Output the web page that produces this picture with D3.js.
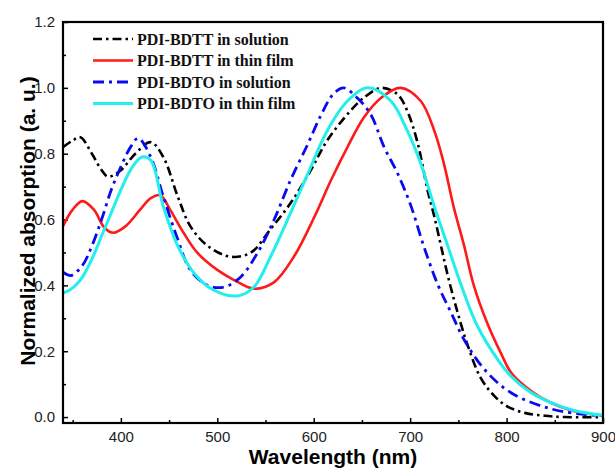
<!DOCTYPE html>
<html lang="en">
<head>
  <meta charset="UTF-8"/>
  <title>Normalized absorption</title>
  <style>
    *{margin:0;padding:0}
    body{background:#fff;width:615px;height:470px;overflow:hidden}
    .tick text{font-family:"Liberation Sans",Arial,sans-serif;font-size:15px;fill:#222}
    .legend text{font-family:"Liberation Serif","Times New Roman",serif;font-weight:bold;font-size:16px;fill:#111}
    .title{font-family:"Liberation Sans",Arial,sans-serif;font-weight:bold;font-size:21px;fill:#000}
  </style>
</head>
<body>
  <div id="chart"></div>
  <script src="https://d3js.org/d3.v7.min.js"></script>
  <script>
    // [wavelength nm, normalized absorption]
    const bdttSolution = [
      [340,0.82],[350,0.84],[358,0.85],[370,0.80],[380,0.75],[387,0.73],[400,0.75],[415,0.80],
      [431,0.835],[444,0.79],[459,0.67],[472,0.58],[490,0.52],[514,0.487],[535,0.50],[555,0.57],
      [576,0.65],[597,0.75],[614,0.84],[638,0.93],[652,0.97],[670,1.0],[687,0.98],[697,0.93],
      [708,0.83],[718,0.69],[725,0.61],[732,0.52],[739,0.43],[749,0.32],[760,0.215],[773,0.12],
      [787,0.065],[801,0.032],[820,0.012],[840,0.004],[860,0.0],[900,0.0]
    ];
    const bdttFilm = [
      [340,0.58],[350,0.63],[360,0.656],[372,0.63],[383,0.575],[392,0.56],[405,0.58],[420,0.63],
      [431,0.665],[441,0.674],[451,0.63],[465,0.56],[479,0.50],[500,0.447],[517,0.417],[538,0.39],
      [559,0.41],[580,0.49],[601,0.61],[618,0.72],[635,0.82],[652,0.91],[670,0.97],[690,1.0],
      [711,0.96],[725,0.87],[735,0.77],[745,0.64],[756,0.52],[766,0.40],[780,0.285],[794,0.195],
      [805,0.134],[828,0.074],[845,0.045],[864,0.023],[880,0.012],[900,0.005]
    ];
    const bdtoSolution = [
      [340,0.44],[348,0.43],[360,0.46],[370,0.52],[380,0.60],[390,0.69],[400,0.76],[410,0.82],
      [418,0.847],[431,0.79],[444,0.67],[459,0.54],[472,0.447],[490,0.40],[507,0.395],[524,0.425],
      [542,0.50],[559,0.60],[576,0.72],[594,0.83],[608,0.92],[620,0.98],[631,1.0],[645,0.97],
      [659,0.92],[673,0.82],[687,0.74],[701,0.64],[714,0.52],[729,0.40],[742,0.32],[756,0.235],
      [777,0.145],[805,0.073],[846,0.025],[880,0.008],[900,0.004]
    ];
    const bdtoFilm = [
      [340,0.377],[347,0.386],[358,0.416],[370,0.48],[380,0.55],[390,0.62],[400,0.69],[412,0.76],
      [422,0.79],[431,0.78],[444,0.64],[459,0.52],[476,0.437],[496,0.386],[521,0.368],[538,0.395],
      [555,0.486],[576,0.62],[594,0.74],[614,0.87],[635,0.96],[656,1.0],[680,0.96],[697,0.87],
      [711,0.77],[725,0.64],[739,0.52],[753,0.40],[770,0.275],[791,0.174],[805,0.123],[825,0.075],
      [846,0.044],[870,0.02],[900,0.005]
    ];

    const series = [
      { name:'PDI-BDTT in solution',  data:bdttSolution, color:'#000',    dash:'9,4,2.5,4', width:2.6 },
      { name:'PDI-BDTT in thin film', data:bdttFilm,     color:'#ff1a1a', dash:null,        width:2.6 },
      { name:'PDI-BDTO in solution',  data:bdtoSolution, color:'#0a0af0', dash:'11,5,3,5',  width:2.8 },
      { name:'PDI-BDTO in thin film', data:bdtoFilm,     color:'#22eeee', dash:null,        width:3 }
    ];

    const xMajor = [400,500,600,700,800,900];
    const xMinor = [350,450,550,650,750,850];
    const yMajor = [0,0.2,0.4,0.6,0.8,1.0,1.2];
    const yMinor = [0.1,0.3,0.5,0.7,0.9,1.1];

    const W = 615, H = 470;
    const m = { left:63, right:12, top:22, bottom:47 };
    const iw = W - m.left - m.right, ih = H - m.top - m.bottom;

    const x = d3.scaleLinear().domain([340,900]).range([0,iw]);
    const y = d3.scaleLinear().domain([-0.018,1.2]).range([ih,0]);

    const svg = d3.select('#chart').append('svg')
      .attr('width',W).attr('height',H);
    const g = svg.append('g').attr('transform',`translate(${m.left},${m.top})`);

    const clip = g.append('clipPath').attr('id','clip');
    clip.append('rect').attr('width',iw).attr('height',ih);

    // axes with inward ticks
    g.append('g').attr('transform',`translate(0,${ih})`)
      .call(d3.axisBottom(x).tickValues(xMajor).tickSize(-5).tickPadding(8).tickFormat(d3.format('d')));
    g.append('g').attr('transform',`translate(0,${ih})`)
      .call(d3.axisBottom(x).tickValues(xMinor).tickSize(-3).tickFormat(''));
    g.append('g')
      .call(d3.axisLeft(y).tickValues(yMajor).tickSize(-5).tickPadding(8).tickFormat(d3.format('.1f')));
    g.append('g')
      .call(d3.axisLeft(y).tickValues(yMinor).tickSize(-3).tickFormat(''));
    g.selectAll('.domain').remove();
    g.selectAll('.tick line').attr('stroke','#000').attr('stroke-width',1.5);

    // curves
    const line = d3.line()
      .x(d => x(d[0])).y(d => y(d[1]))
      .curve(d3.curveCatmullRom.alpha(0.5));

    const plot = g.append('g').attr('clip-path','url(#clip)');
    series.forEach(s => {
      plot.append('path')
        .datum(s.data)
        .attr('d',line)
        .attr('fill','none')
        .attr('stroke',s.color)
        .attr('stroke-width',s.width)
        .attr('stroke-dasharray',s.dash);
    });

    // frame
    g.append('rect').attr('width',iw).attr('height',ih)
      .attr('fill','none').attr('stroke','#000').attr('stroke-width',2.2);

    // legend
    const leg = g.append('g').attr('class','legend').attr('transform','translate(30,17)');
    series.forEach((s,i) => {
      const row = leg.append('g').attr('transform',`translate(0,${i*21.5})`);
      row.append('line').attr('x1',0).attr('x2',40).attr('y1',0).attr('y2',0)
        .attr('stroke',s.color).attr('stroke-width',s.width)
        .attr('stroke-dasharray',s.dash);
      row.append('text').attr('x',44).attr('y',5.5).text(s.name);
    });

    // axis titles
    svg.append('text').attr('class','title')
      .attr('x',m.left + iw/2).attr('y',H-6)
      .attr('text-anchor','middle').text('Wavelength (nm)');
    svg.append('text').attr('class','title')
      .attr('transform',`translate(35,${m.top + 199}) rotate(-90)`)
      .attr('text-anchor','middle').text('Normalized absorption (a. u.)');
  </script>
</body>
</html>
